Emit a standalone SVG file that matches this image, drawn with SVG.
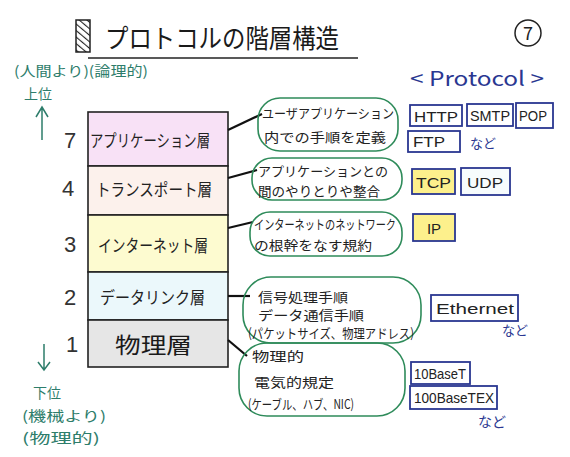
<svg xmlns="http://www.w3.org/2000/svg" width="570" height="457" viewBox="0 0 570 457">
<defs>
<pattern id="hatch" patternUnits="userSpaceOnUse" width="5" height="5" patternTransform="rotate(-50)">
<rect width="5" height="5" fill="#fff"/>
<line x1="0" y1="0" x2="0" y2="5" stroke="#222" stroke-width="2.2"/>
</pattern>
</defs>
<style>
text{font-family:"Noto Sans CJK JP","Noto Sans",sans-serif;}
.jp{fill:#1a1a1a;}
.green{fill:#2e7d6b;font-size:14px;}
.garrow{stroke:#2e7d6b;stroke-width:1.5;fill:none;}
.layer{stroke:#222;stroke-width:1.6;}
.lbl{font-size:17px;fill:#222;}
.num{font-size:22px;fill:#333;font-family:"Liberation Sans",sans-serif;}
.bub{fill:none;stroke:#2e8b5a;stroke-width:1.6;}
.bt{font-size:13px;fill:#222;}
.pbox{fill:#fff;stroke:#2a3791;stroke-width:1.8;}
.ptxt{font-size:15px;fill:#222;font-family:"Liberation Sans",sans-serif;}
.blue{fill:#2a3791;}
.conn{stroke:#111;stroke-width:2.2;fill:none;}
</style>
<rect width="570" height="457" fill="#fff"/>
<g id="title">
<rect x="76" y="20" width="14" height="32" fill="url(#hatch)" stroke="#222" stroke-width="1.5"/>
<text x="105" y="48" font-size="26" class="jp" textLength="234" lengthAdjust="spacingAndGlyphs">プロトコルの階層構造</text>
<line x1="88" y1="58" x2="358" y2="58" stroke="#222" stroke-width="1.5"/>
<circle cx="528" cy="33" r="13" fill="none" stroke="#222" stroke-width="1.5"/>
<text x="528" y="40" font-size="18" text-anchor="middle" font-family="Liberation Sans" fill="#222">7</text>
</g>
<g id="upper-label">
<text x="14" y="76" class="green" textLength="134" lengthAdjust="spacingAndGlyphs">(人間より)(論理的)</text>
<text x="24" y="99" class="green">上位</text>
<path class="garrow" d="M42,140 L42,108 M36,117 L42,107 L48,117"/>
</g>
<g id="lower-label">
<path class="garrow" d="M44,344 L44,370 M38,362 L44,370 L50,362"/>
<text x="33" y="398" class="green">下位</text>
<text x="22" y="421" class="green" textLength="84" lengthAdjust="spacingAndGlyphs">(機械より)</text>
<text x="22" y="443" class="green" textLength="78" lengthAdjust="spacingAndGlyphs">(物理的)</text>
</g>
<g id="layer7">
<rect x="88" y="112" width="140" height="54" fill="#f8e1f6" class="layer"/>
<text x="90" y="147" class="lbl" textLength="120" lengthAdjust="spacingAndGlyphs">アプリケーション層</text>
<text x="64" y="148" class="num">7</text>
</g>
<g id="layer4">
<rect x="88" y="166" width="140" height="49" fill="#fcf1ec" class="layer"/>
<text x="96" y="196" class="lbl" textLength="116" lengthAdjust="spacingAndGlyphs">トランスポート層</text>
<text x="62" y="196" class="num">4</text>
</g>
<g id="layer3">
<rect x="88" y="215" width="140" height="57" fill="#fdfbd0" class="layer"/>
<text x="98" y="252" class="lbl" textLength="110" lengthAdjust="spacingAndGlyphs">インターネット層</text>
<text x="64" y="252" class="num">3</text>
</g>
<g id="layer2">
<rect x="88" y="272" width="140" height="48" fill="#ebf8fb" class="layer"/>
<text x="100" y="304" class="lbl" textLength="105" lengthAdjust="spacingAndGlyphs">データリンク層</text>
<text x="64" y="305" class="num">2</text>
</g>
<g id="layer1">
<rect x="88" y="320" width="140" height="47" fill="#e6e6e6" class="layer"/>
<text x="115" y="353" font-size="22" class="jp" textLength="77" lengthAdjust="spacingAndGlyphs">物理層</text>
<text x="66" y="352" class="num">1</text>
</g>
<g id="connectors">
<path class="conn" d="M228,130 L262,114"/>
<path class="conn" d="M228,178 L257,170"/>
<path class="conn" d="M228,228 L253,222"/>
<path class="conn" d="M228,296 L250,296"/>
<path class="conn" d="M228,340 L247,356"/>
</g>
<g id="bubble7">
<rect x="258" y="98" width="140" height="53" rx="22" class="bub"/>
<text x="262" y="118" class="bt" font-size="12" textLength="132" lengthAdjust="spacingAndGlyphs">ユーザアプリケーション</text>
<text x="264" y="142" class="bt" textLength="122" lengthAdjust="spacingAndGlyphs">内での手順を定義</text>
</g>
<g id="bubble4">
<rect x="252" y="158" width="150" height="42" rx="20" class="bub"/>
<text x="258" y="176" class="bt" textLength="130" lengthAdjust="spacingAndGlyphs">アプリケーションとの</text>
<text x="258" y="196" class="bt" textLength="122" lengthAdjust="spacingAndGlyphs">間のやりとりや整合</text>
</g>
<g id="bubble3">
<rect x="250" y="212" width="152" height="44" rx="20" class="bub"/>
<text x="254" y="229" class="bt" font-size="10.5" textLength="142" lengthAdjust="spacingAndGlyphs">インターネットのネットワーク</text>
<text x="254" y="250" class="bt" textLength="118" lengthAdjust="spacingAndGlyphs">の根幹をなす規約</text>
</g>
<g id="bubble2">
<rect x="243" y="277" width="178" height="66" rx="28" class="bub"/>
<text x="258" y="302" class="bt" font-size="15" textLength="90" lengthAdjust="spacingAndGlyphs">信号処理手順</text>
<text x="258" y="320" class="bt" font-size="14" textLength="106" lengthAdjust="spacingAndGlyphs">データ通信手順</text>
<text x="248" y="338" class="bt" font-size="11" textLength="166" lengthAdjust="spacingAndGlyphs">(パケットサイズ、物理アドレス)</text>
</g>
<g id="bubble1">
<rect x="239" y="343" width="166" height="73" rx="28" class="bub"/>
<text x="252" y="361" class="bt" font-size="14" textLength="52" lengthAdjust="spacingAndGlyphs">物理的</text>
<text x="254" y="387" class="bt" font-size="17" textLength="80" lengthAdjust="spacingAndGlyphs">電気的規定</text>
<text x="248" y="409" class="bt" font-size="12" textLength="106" lengthAdjust="spacingAndGlyphs">(ケーブル、ハブ、NIC)</text>
</g>
<g id="protocol-header">
<text x="410" y="86" font-size="20" class="blue" font-family="Liberation Sans" textLength="134" lengthAdjust="spacingAndGlyphs">&lt; Protocol &gt;</text>
</g>
<g id="p-http"><rect x="410" y="105" width="52" height="21" class="pbox"/><text x="414" y="122" class="ptxt" textLength="44" lengthAdjust="spacingAndGlyphs">HTTP</text></g>
<g id="p-smtp"><rect x="467" y="104" width="46" height="22" class="pbox"/><text x="470" y="121" class="ptxt" font-size="14" textLength="40" lengthAdjust="spacingAndGlyphs">SMTP</text></g>
<g id="p-pop"><rect x="516" y="103" width="37" height="25" class="pbox"/><text x="519" y="121" class="ptxt" font-size="14" textLength="28" lengthAdjust="spacingAndGlyphs">POP</text></g>
<g id="p-ftp"><rect x="408" y="131" width="52" height="21" class="pbox"/><text x="413" y="147" class="ptxt" textLength="32" lengthAdjust="spacingAndGlyphs">FTP</text></g>
<text x="470" y="148" font-size="13" class="blue">など</text>
<g id="p-tcp"><rect x="412" y="169" width="43" height="25" class="pbox" style="fill:#fdf08c"/><text x="416" y="188" class="ptxt" textLength="35" lengthAdjust="spacingAndGlyphs">TCP</text></g>
<g id="p-udp"><rect x="461" y="168" width="49" height="27" class="pbox" style="fill:#f7fcfd"/><text x="467" y="188" class="ptxt" textLength="36" lengthAdjust="spacingAndGlyphs">UDP</text></g>
<g id="p-ip"><rect x="413" y="214" width="42" height="27" class="pbox" style="fill:#fdf08c"/><text x="434" y="234" class="ptxt" text-anchor="middle">IP</text></g>
<g id="p-ethernet"><rect x="431" y="295" width="87" height="26" class="pbox"/><text x="436" y="314" class="ptxt" font-size="16" textLength="78" lengthAdjust="spacingAndGlyphs">Ethernet</text></g>
<text x="502" y="335" font-size="13" class="blue">など</text>
<g id="p-10baset"><rect x="411" y="362" width="59" height="22" class="pbox"/><text x="414" y="379" class="ptxt" font-size="13" textLength="52" lengthAdjust="spacingAndGlyphs">10BaseT</text></g>
<g id="p-100basetex"><rect x="410" y="386" width="87" height="23" class="pbox"/><text x="414" y="403" class="ptxt" font-size="13" textLength="80" lengthAdjust="spacingAndGlyphs">100BaseTEX</text></g>
<text x="478" y="427" font-size="14" class="blue">など</text>
</svg>
